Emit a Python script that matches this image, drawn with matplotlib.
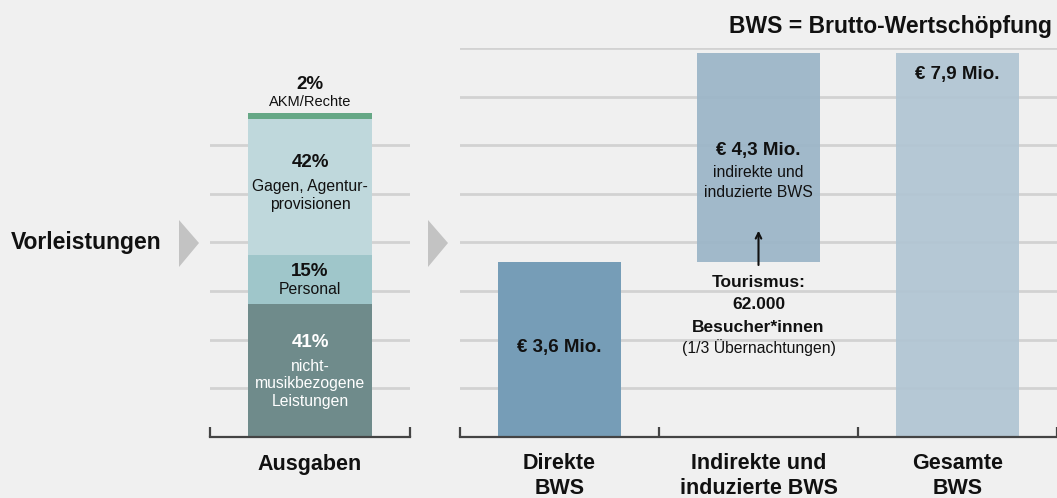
import matplotlib.pyplot as plt
from matplotlib.patches import Polygon

plt.rcParams['font.family'] = ['Liberation Sans', 'DejaVu Sans']

# left: expenditure shares (%)
ausgaben_pct = [41, 15, 42, 2]
ausgaben_big = ["41%", "15%", "42%", "2%"]
ausgaben_small = [["nicht-", "musikbezogene", "Leistungen"], ["Personal"],
                  ["Gagen, Agentur-", "provisionen"], ["AKM/Rechte"]]
ausgaben_colors = ["#6f8b8b", "#9fc6ca", "#bfd8dc", "#66a886"]

# right: value added (Mio. EUR)
bws_labels = [["Direkte", "BWS"], ["Indirekte und", "induzierte BWS"], ["Gesamte", "BWS"]]
bws_direkt = 3.6
bws_indirekt = 4.3
bws_gesamt = 7.9
bws_colors = ["#769db7", "#9bb5c8", "#b1c5d3"]

BG = "#f0f0f0"
GRID = "#d2d2d2"
INK = "#111111"
W, H = 1057, 498

fig = plt.figure(figsize=(W / 100, H / 100), dpi=100, facecolor=BG)


def fr(x0, x1, y_top, y_bot):
    return [x0 / W, 1 - y_bot / H, (x1 - x0) / W, (y_bot - y_top) / H]


def lines(ax, x, ys, texts, **kw):
    for y, t in zip(ys, texts):
        ax.text(x, y, t, ha="center", va="center", clip_on=False, zorder=3, **kw)


axL = fig.add_axes(fr(210, 410, 48, 437))
axR = fig.add_axes(fr(460, 1057, 48, 437))

for ax in (axL, axR):
    ax.set_facecolor(BG)
    for s in ("top", "right", "left"):
        ax.spines[s].set_visible(False)
    ax.spines["bottom"].set_color("#444444")
    ax.spines["bottom"].set_linewidth(1.6)
    ax.tick_params(axis="x", direction="in", length=7, width=1.6,
                   color="#444444", labelbottom=False)
    ax.tick_params(axis="y", left=False, labelleft=False)

# ---- left stacked bar ----
step = 15
axL.set_xlim(-0.5, 0.5)
axL.set_ylim(0, 8 * step)
axL.set_xticks([-0.5, 0.5])
for g in range(1, 7):
    axL.axhline(g * step, color=GRID, lw=2, zorder=0)

bottom = 0
for val, col in zip(ausgaben_pct, ausgaben_colors):
    axL.bar(0, val, width=0.62, bottom=bottom, color=col, zorder=2, clip_on=False)
    bottom += val

big = dict(fontsize=13.5, fontweight="bold")
small = dict(fontsize=11.3)
lines(axL, 0, [29.0], [ausgaben_big[0]], color="white", **big)
lines(axL, 0, [21.9, 16.4, 10.8], ausgaben_small[0], color="white", **small)
lines(axL, 0, [50.9], [ausgaben_big[1]], color=INK, **big)
lines(axL, 0, [45.4], ausgaben_small[1], color=INK, **small)
lines(axL, 0, [84.6], [ausgaben_big[2]], color=INK, **big)
lines(axL, 0, [77.2, 71.8], ausgaben_small[2], color=INK, **small)
lines(axL, 0, [108.6], [ausgaben_big[3]], color=INK, **big)
lines(axL, 0, [103.4], ausgaben_small[3], color=INK, fontsize=10.5)
lines(axL, 0, [-8.6], ["Ausgaben"], color=INK, fontsize=15.5, fontweight="bold")

# ---- right waterfall ----
axR.set_xlim(-0.5, 2.5)
axR.set_ylim(0, 8)
axR.set_xticks([-0.5, 0.5, 1.5, 2.5])
for g in range(1, 9):
    axR.axhline(g, color=GRID, lw=2, zorder=0)

axR.bar(0, bws_direkt, width=0.62, color=bws_colors[0], zorder=2)
axR.bar(1, bws_indirekt, bottom=bws_direkt, width=0.62, color=bws_colors[1],
        alpha=0.93, zorder=2)
axR.bar(2, bws_gesamt, width=0.62, color=bws_colors[2], alpha=0.93, zorder=2)

lines(axR, 0, [1.85], ["€ 3,6 Mio."], color=INK, **big)
lines(axR, 1, [5.9], ["€ 4,3 Mio."], color=INK, **big)
lines(axR, 1, [5.43, 5.02], ["indirekte und", "induzierte BWS"], color=INK,
      fontsize=11.3)
lines(axR, 2, [7.45], ["€ 7,9 Mio."], color=INK, **big)

axR.annotate("", xy=(1, 4.3), xytext=(1, 3.48),
             arrowprops=dict(arrowstyle="->", lw=1.5, color=INK), zorder=4)
lines(axR, 1, [3.17, 2.72, 2.26], ["Tourismus:", "62.000", "Besucher*innen"],
      color=INK, fontsize=12.5, fontweight="bold")
lines(axR, 1, [1.85], ["(1/3 Übernachtungen)"], color=INK, fontsize=11.3)

for i, lab in enumerate(bws_labels):
    lines(axR, i, [-0.535, -1.05], lab, color=INK, fontsize=15.5, fontweight="bold")

fig.text(1052 / W, 1 - 26 / H, "BWS = Brutto-Wertschöpfung", ha="right",
         va="center", fontsize=16.5, fontweight="bold", color=INK)
fig.text(11 / W, 1 - 242 / H, "Vorleistungen", ha="left", va="center",
         fontsize=16.5, fontweight="bold", color=INK)

# grey arrow heads
for x0 in (179, 428):
    pts = [(x0 / W, 1 - 220 / H), ((x0 + 20) / W, 1 - 243 / H), (x0 / W, 1 - 267 / H)]
    fig.patches.append(Polygon(pts, closed=True, transform=fig.transFigure,
                               facecolor="#c3c3c3", edgecolor="none"))

fig.savefig("out.png", dpi=100, facecolor=BG)
